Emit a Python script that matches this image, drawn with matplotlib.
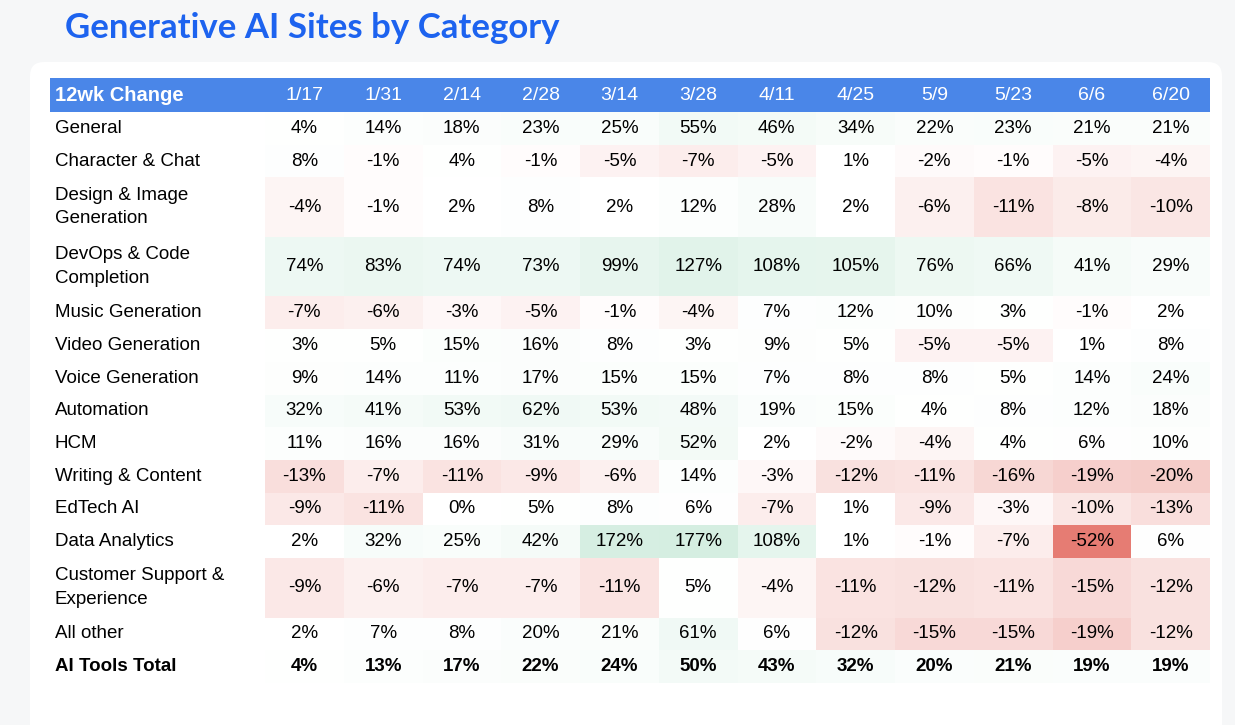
import matplotlib
matplotlib.use("Agg")
import matplotlib.pyplot as plt
from matplotlib.patches import Rectangle, FancyBboxPatch
import numpy as np

plt.rcParams["font.family"] = "Liberation Sans"

dates = ["1/17", "1/31", "2/14", "2/28", "3/14", "3/28", "4/11", "4/25", "5/9", "5/23", "6/6", "6/20"]
categories = ["General", "Character & Chat", "Design & Image\nGeneration", "DevOps & Code\nCompletion",
              "Music Generation", "Video Generation", "Voice Generation", "Automation", "HCM",
              "Writing & Content", "EdTech AI", "Data Analytics", "Customer Support &\nExperience",
              "All other", "AI Tools Total"]
values = [
    [4, 14, 18, 23, 25, 55, 46, 34, 22, 23, 21, 21],
    [8, -1, 4, -1, -5, -7, -5, 1, -2, -1, -5, -4],
    [-4, -1, 2, 8, 2, 12, 28, 2, -6, -11, -8, -10],
    [74, 83, 74, 73, 99, 127, 108, 105, 76, 66, 41, 29],
    [-7, -6, -3, -5, -1, -4, 7, 12, 10, 3, -1, 2],
    [3, 5, 15, 16, 8, 3, 9, 5, -5, -5, 1, 8],
    [9, 14, 11, 17, 15, 15, 7, 8, 8, 5, 14, 24],
    [32, 41, 53, 62, 53, 48, 19, 15, 4, 8, 12, 18],
    [11, 16, 16, 31, 29, 52, 2, -2, -4, 4, 6, 10],
    [-13, -7, -11, -9, -6, 14, -3, -12, -11, -16, -19, -20],
    [-9, -11, 0, 5, 8, 6, -7, 1, -9, -3, -10, -13],
    [2, 32, 25, 42, 172, 177, 108, 1, -1, -7, -52, 6],
    [-9, -6, -7, -7, -11, 5, -4, -11, -12, -11, -15, -12],
    [2, 7, 8, 20, 21, 61, 6, -12, -15, -15, -19, -12],
    [4, 13, 17, 22, 24, 50, 43, 32, 20, 21, 19, 19],
]


def cell_color(v):
    white = np.array([1.0, 1.0, 1.0])
    if v < 0:
        end = np.array([0xe6, 0x7c, 0x73]) / 255
        t = min(-v / 52, 1.0)
    else:
        end = np.array([0x57, 0xbb, 0x8a]) / 255
        t = min(v / 700, 1.0)
    return tuple(white + (end - white) * t)


fig = plt.figure(figsize=(12.35, 7.25), dpi=100)
fig.patch.set_facecolor("#f6f7f8")
ax = fig.add_axes([0, 0, 1, 1])
ax.set_xlim(0, 1235)
ax.set_ylim(725, 0)
ax.axis("off")

ax.add_patch(FancyBboxPatch((30, 62), 1192, 700, boxstyle="round,pad=0,rounding_size=14",
                            facecolor="white", edgecolor="none"))
ax.text(65, 28, "Generative AI Sites by Category", fontsize=25, fontweight="bold",
        fontfamily="Lato", color="#1d63ef", va="center", ha="left")

x0, lab_w, col_w = 50, 215, 78.75
right = x0 + lab_w + col_w * len(dates)
ax.add_patch(Rectangle((x0, 78), right - x0, 34, facecolor="#4a86e8", edgecolor="none"))
ax.text(x0 + 5, 95, "12wk Change", fontsize=14.5, fontweight="bold", color="white", va="center")
for j, d in enumerate(dates):
    ax.text(x0 + lab_w + col_w * (j + 0.5), 95, d, fontsize=14, color="white",
            va="center", ha="center")

heights = [32.7 if "\n" not in c else 59.5 for c in categories]
y = 112
for i, cat in enumerate(categories):
    h = heights[i]
    bold = "bold" if i == len(categories) - 1 else "normal"
    ax.text(x0 + 5, y + h / 2, cat, fontsize=13.5, va="center", ha="left",
            fontweight=bold, linespacing=1.5)
    for j, v in enumerate(values[i]):
        cx = x0 + lab_w + col_w * j
        ax.add_patch(Rectangle((cx, y), col_w, h, facecolor=cell_color(v), edgecolor="none"))
        ax.text(cx + col_w / 2, y + h / 2, f"{v}%", fontsize=13.5, va="center",
                ha="center", fontweight=bold)
    y += h

fig.savefig("out.png", dpi=100, facecolor=fig.get_facecolor())
